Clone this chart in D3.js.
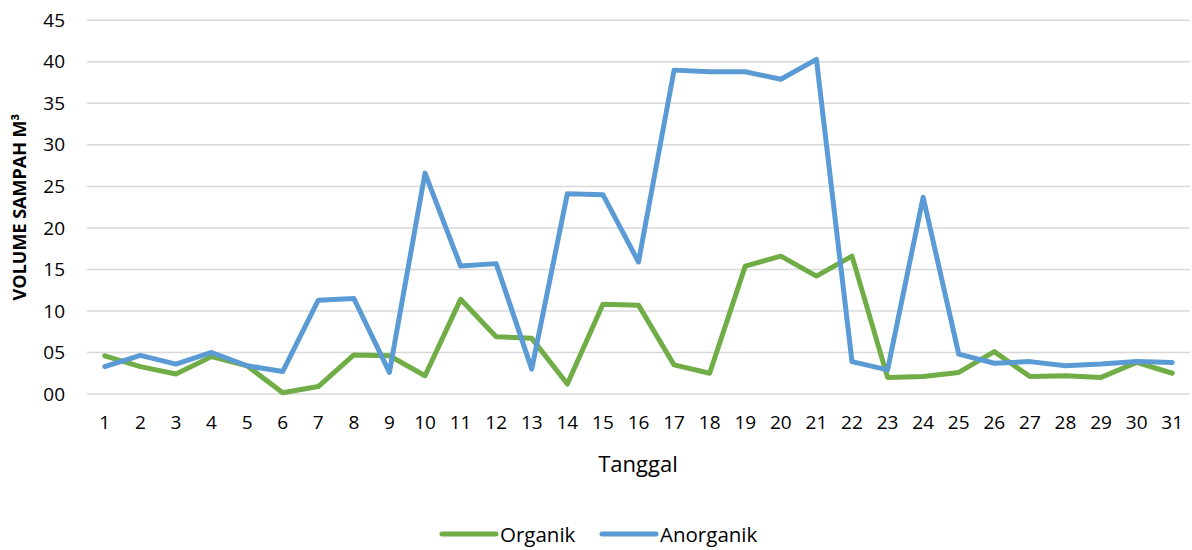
<!DOCTYPE html>
<html><head><meta charset="utf-8">
<script src="https://cdn.jsdelivr.net/npm/d3@7"></script>
<style>body{margin:0;background:#fff;} text{font-family:"Open Sans","Liberation Sans",sans-serif;}</style>
</head><body>
<svg id="c" width="1192" height="550"></svg>
<script>
const categories = d3.range(1, 32).map(String);
const organik = [4.6,3.3,2.4,4.5,3.4,0.15,0.9,4.7,4.6,2.2,11.4,6.9,6.7,1.2,10.8,10.7,3.5,2.5,15.4,16.6,14.2,16.6,2.0,2.1,2.6,5.1,2.1,2.2,2.0,3.8,2.5];
const anorganik = [3.3,4.65,3.6,5.0,3.4,2.7,11.3,11.5,2.6,26.6,15.4,15.7,3.0,24.1,24.0,15.9,39.0,38.8,38.8,37.9,40.3,3.9,2.9,23.7,4.8,3.7,3.9,3.4,3.6,3.9,3.8];
const yTicks = [0,5,10,15,20,25,30,35,40,45];
const yTickLabels = ["00","05","10","15","20","25","30","35","40","45"];
const seriesNames = ["Organik","Anorganik"];
const colors = ["#70AD47","#5B9BD5"];

const svg = d3.select("#c");
const m = {l:87, r:1190, t:20.3, b:394};
const x = d3.scaleBand().domain(categories).range([m.l, m.r]);
const y = d3.scaleLinear().domain([0,45]).range([m.b, m.t]);

// gridlines
svg.append("g").selectAll("line").data(yTicks).join("line")
  .attr("x1", m.l).attr("x2", m.r)
  .attr("y1", d=>y(d)).attr("y2", d=>y(d))
  .attr("stroke","#D9D9D9").attr("stroke-width",1.5);

// y axis labels
const ya = svg.append("g").attr("transform",`translate(${m.l},0)`)
  .call(d3.axisLeft(y).tickValues(yTicks).tickFormat((d,i)=>yTickLabels[i]).tickSize(0).tickPadding(22));
ya.select(".domain").remove();
ya.selectAll("text").attr("font-size",19).attr("fill","#000").style("font-family","'Open Sans',sans-serif");

// x axis labels
const xa = svg.append("g").attr("transform",`translate(0,${m.b})`)
  .call(d3.axisBottom(x).tickSize(0).tickPadding(22));
xa.select(".domain").remove();
xa.selectAll("text").attr("font-size",19).attr("fill","#000").style("font-family","'Open Sans',sans-serif");

const line = d3.line().x((d,i)=>x(categories[i])+x.bandwidth()/2).y(d=>y(d));
[organik, anorganik].forEach((s,k)=>{
  svg.append("path").datum(s).attr("d",line).attr("fill","none")
    .attr("stroke",colors[k]).attr("stroke-width",5).attr("stroke-linejoin","round").attr("stroke-linecap","round");
});

svg.append("text").attr("x",638).attr("y",472).attr("text-anchor","middle")
  .attr("font-size",22).text("Tanggal");
svg.append("text").attr("transform","translate(26,207) rotate(-90)").attr("text-anchor","middle")
  .attr("font-size",18).attr("font-weight","bold").text("VOLUME SAMPAH M³");

// legend
const leg = [{x:442, tx:500},{x:602, tx:660}];
seriesNames.forEach((n,k)=>{
  svg.append("line").attr("x1",leg[k].x).attr("x2",leg[k].x+54).attr("y1",534).attr("y2",534)
    .attr("stroke",colors[k]).attr("stroke-width",5).attr("stroke-linecap","round");
  svg.append("text").attr("x",leg[k].tx).attr("y",542).attr("font-size",20.5).text(n);
});
</script>
</body></html>
